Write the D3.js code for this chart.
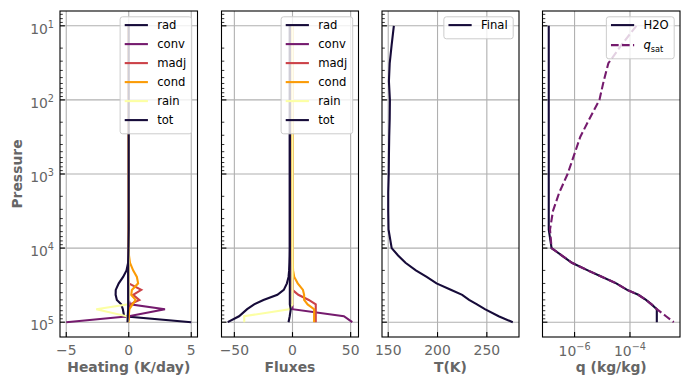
<!DOCTYPE html>
<html>
<head>
<meta charset="utf-8">
<script src="https://cdn.jsdelivr.net/npm/d3@7"></script>
<style>
body { margin: 0; background: #fff; }
text { font-family: "DejaVu Sans", sans-serif; }
</style>
</head>
<body>
<svg id="chart" width="690" height="390"></svg>
<script>
// pressure levels (Pa)
var pres = [10, 18, 32, 56, 100, 178, 316, 562, 1000, 1780, 3160, 5620,
            10000, 12600, 15800, 20000, 24500, 29900, 36700, 42700, 50100, 57500, 66800, 83200, 100000];

// heating rates (K/day)
var heatRad  = [0, 0, 0, 0, 0, 0, 0, 0, 0, 0, 0, -0.02, -0.03, -0.04, -0.05, -0.18, -0.45, -0.8, -1.04, -1.05, -0.95, -0.6, -0.47, -0.37, 5.0];
var heatConv = [0, 0, 0, 0, 0, 0, 0, 0, 0, 0, 0, 0, 0, 0, 0, 0, 0, 0, 0, 0, 0, 0.1, 2.9, 0, -5.0];
var heatMadj = [0, 0, 0, 0, 0, 0, 0, 0, 0, 0, 0, 0, 0, 0, 0, 0, 0, 0, 1.0, 0.35, 0.85, 0.1, 0, 0, 0];
var heatCond = [0, 0, 0, 0, 0, 0, 0, 0, 0, 0, 0, 0, 0, 0.02, 0.1, 0.35, 0.65, 0.75, 0.25, 0.2, 0.55, 0.3, 0.05, 0, 0];
var heatRain = [0, 0, 0, 0, 0, 0, 0, 0, 0, 0, 0, 0, 0, 0, 0, 0, 0, 0, 0, 0, 0, -0.05, -2.6, -0.15, 0];
var heatTot  = [0, 0, 0, 0, 0, 0, 0, 0, 0, 0, 0, 0, -0.02, -0.03, -0.05, -0.05, -0.05, -0.05, -0.05, -0.05, -0.05, -0.05, -0.05, -0.08, -0.1];

// fluxes
var fluxRad  = [-2.3, -2.3, -2.3, -2.3, -2.3, -2.3, -2.3, -2.3, -2.3, -2.3, -2.3, -2.3, -2.3, -2.4, -2.6, -2.9, -3.4, -4.8, -7.5, -13, -25, -33, -39, -46, -55.7];
var fluxConv = [0, 0, 0, 0, 0, 0, 0, 0, 0, 0, 0, 0, 0, 0, 0, 0, 0, 0, 0, 0, 0, 0, 0, 44.2, 51.4];
var fluxMadj = [0, 0, 0, 0, 0, 0, 0, 0, 0, 0, 0, 0, 0, 0, 0, 0, 0, 0, 0, 5, 14, 20, 20, 20, 20];
var fluxCond = [0, 0, 0, 0, 0, 0, 0, 0, 0, 0, 0, 0, 0, 0, 0.2, 0.5, 1.5, 4.5, 9, 10, 10, 13, 18.6, 18.6, 18.6];
var fluxRain = [0, 0, 0, 0, 0, 0, 0, 0, 0, 0, 0, 0, 0, 0, 0, 0, 0, 0, 0, 0, 0, 0, -2.9, -41.5, -41.5];
var fluxTot  = [-2.3, -2.3, -2.3, -2.3, -2.3, -2.3, -2.3, -2.3, -2.3, -2.3, -2.3, -2.3, -2.3, -2.3, -2.3, -2.3, -2.3, -2.3, -2.3, -2.3, -2.3, -2.3, -1.5, -2.4, -3.4];

// temperature (K)
var tempFinal = [155.7, 153.5, 151.5, 150.7, 151.7, 151.5, 151, 150.7, 150.5, 150, 150, 150.3,
                 153.5, 160, 167.5, 178, 189, 199, 214, 225, 232, 240, 248, 262, 276.3];

// specific humidity (kg/kg)
var qH2O = [1.17e-7, 1.17e-7, 1.17e-7, 1.17e-7, 1.17e-7, 1.17e-7, 1.17e-7, 1.17e-7, 1.17e-7, 1.17e-7, 1.17e-7, 1.17e-7,
            1.48e-7, 3.5e-7, 8e-7, 3.0e-6, 1e-5, 3.2e-5, 7.9e-5, 2.0e-4, 3.8e-4, 6.0e-4, 9.3e-4, 9.3e-4, 9.3e-4];
var qSat = [1.7e-4, 5e-5, 1.66e-5, 1.12e-5, 7.9e-6, 3.5e-6, 1.6e-6, 9.5e-7, 5.6e-7, 2.8e-7, 1.66e-7, 1.3e-7,
            1.48e-7, 3.5e-7, 8e-7, 3.0e-6, 1e-5, 3.2e-5, 7.9e-5, 2.0e-4, 3.8e-4, 6.0e-4, 9.3e-4, 2.0e-3, 3.8e-3];

var termNames = ["rad", "conv", "madj", "cond", "rain", "tot"];
var termColors = ["#160b39", "#751b6e", "#cc4248", "#fb9b06", "#fcffa4", "#160b39"];

var heatTicks = [-5, 0, 5];
var fluxTicks = [-50, 0, 50];
var tempTicks = [150, 200, 250];
var qTicks = [1e-6, 1e-4];
var presTicks = [1e1, 1e2, 1e3, 1e4, 1e5];

//------------------------------------------------------
var plotTop = 11, plotBottom = 337;
var fsTick = 13.9, gray = "#666";
var lw = 2.1, dashQ = "7.7,3.3";
var svg = d3.select("#chart");

function padLin(vals) {
    var e = d3.extent(vals), m = (e[1] - e[0]) * 0.05;
    return [e[0] - m, e[1] + m];
}
function padLog(vals) {
    var e = d3.extent(vals).map(Math.log10), m = (e[1] - e[0]) * 0.05;
    return [Math.pow(10, e[0] - m), Math.pow(10, e[1] + m)];
}

var y = d3.scaleLog().domain(padLog(pres)).range([plotTop, plotBottom]);

// minor log ticks inside y domain
var yMinor = [];
[1, 10, 100, 1000, 10000, 100000].forEach(function (d) {
    for (var k = 2; k <= 9; k++) {
        var v = d * k;
        if (v > y.domain()[0] && v < y.domain()[1]) yMinor.push(v);
    }
});

function supLabel(sel, exp, supDy, supSize) {
    sel.append("tspan").text("10");
    sel.append("tspan").attr("dy", supDy).attr("font-size", supSize).text(exp);
}

function drawPanel(x, xTicks, isLog, xLabel, lines, rows, pitch, showY) {
    var x0 = x.range()[0], x1 = x.range()[1];
    var g = svg.append("g");

    // grid
    g.selectAll(".gx").data(xTicks).enter().append("line")
        .attr("x1", function (d) { return x(d); }).attr("x2", function (d) { return x(d); })
        .attr("y1", plotTop).attr("y2", plotBottom)
        .style("stroke", "#b0b0b0").style("stroke-width", 1.1);
    g.selectAll(".gy").data(presTicks).enter().append("line")
        .attr("x1", x0).attr("x2", x1)
        .attr("y1", function (d) { return y(d); }).attr("y2", function (d) { return y(d); })
        .style("stroke", "#b0b0b0").style("stroke-width", 1.1);

    // lines
    lines.forEach(function (ln) {
        var d3line = d3.line()
            .x(function (d) { return x(d[0]); })
            .y(function (d) { return y(d[1]); });
        g.append("path")
            .attr("d", d3line(d3.zip(ln.values, pres)))
            .style("fill", "none")
            .style("stroke", ln.color)
            .style("stroke-width", lw)
            .style("stroke-dasharray", ln.dash || null);
    });

    // frame
    g.append("rect").attr("x", x0).attr("y", plotTop)
        .attr("width", x1 - x0).attr("height", plotBottom - plotTop)
        .style("fill", "none").style("stroke", "#000").style("stroke-width", 1.1);

    // ticks (inside)
    g.selectAll(".tx").data(xTicks).enter().append("line")
        .attr("x1", function (d) { return x(d); }).attr("x2", function (d) { return x(d); })
        .attr("y1", plotBottom).attr("y2", plotBottom - 4.9)
        .style("stroke", "#000").style("stroke-width", 1.1);
    g.selectAll(".ty").data(presTicks).enter().append("line")
        .attr("x1", x0).attr("x2", x0 + 4.9)
        .attr("y1", function (d) { return y(d); }).attr("y2", function (d) { return y(d); })
        .style("stroke", "#000").style("stroke-width", 1.1);
    g.selectAll(".tym").data(yMinor).enter().append("line")
        .attr("x1", x0).attr("x2", x0 + 2.8)
        .attr("y1", function (d) { return y(d); }).attr("y2", function (d) { return y(d); })
        .style("stroke", "#000").style("stroke-width", 0.8);

    // x tick labels
    xTicks.forEach(function (d) {
        var t = g.append("text")
            .attr("x", x(d)).attr("y", isLog ? 356 : 355)
            .attr("text-anchor", "middle")
            .attr("font-size", fsTick).attr("fill", gray);
        if (isLog) supLabel(t, d3.format("d")(Math.round(Math.log10(d))), -5.7, 9.7);
        else t.text(d3.format("d")(d));
    });

    // y tick labels
    if (showY) {
        presTicks.forEach(function (d) {
            var t = g.append("text")
                .attr("x", 54).attr("y", y(d) + 7.7)
                .attr("text-anchor", "end")
                .attr("font-size", fsTick).attr("fill", gray);
            supLabel(t, String(Math.round(Math.log10(d))), -5.7, 9.7);
        });
        g.append("text")
            .attr("transform", "translate(21.7," + ((plotTop + plotBottom) / 2) + ") rotate(-90)")
            .attr("text-anchor", "middle")
            .attr("font-size", fsTick).attr("font-weight", "bold").attr("fill", gray)
            .text("Pressure");
    }

    g.append("text")
        .attr("x", (x0 + x1) / 2).attr("y", 372)
        .attr("text-anchor", "middle")
        .attr("font-size", fsTick).attr("font-weight", "bold").attr("fill", gray)
        .text(xLabel);

    // legend
    var lg = g.append("g");
    var box = lg.append("rect");
    var maxW = 0;
    rows.forEach(function (r, k) {
        var ly = 8.3 + k * pitch;
        lg.append("line")
            .attr("x1", 4.6).attr("x2", 27.8).attr("y1", ly).attr("y2", ly)
            .style("stroke", r.color).style("stroke-width", lw)
            .style("stroke-dasharray", r.dash || null);
        var t = lg.append("text")
            .attr("x", 37.1).attr("y", ly + 4.2)
            .attr("font-size", 11.6).attr("fill", "#000");
        if (r.sub) {
            t.append("tspan").attr("font-style", "italic").text(r.label);
            t.append("tspan").attr("dy", 2.8).attr("font-size", 8.2).text(r.sub);
        } else {
            t.text(r.label);
        }
        maxW = Math.max(maxW, t.node().getComputedTextLength());
    });
    var bw = 37.1 + maxW + 5.5;
    var bh = 22 + (rows.length - 1) * pitch;
    box.attr("x", 0).attr("y", 0).attr("width", bw).attr("height", bh)
        .attr("rx", 2.5)
        .style("fill", "#fff").style("fill-opacity", 0.8)
        .style("stroke", "#cccccc").style("stroke-width", 1);
    lg.attr("transform", "translate(" + (x1 - 5.8 - bw) + "," + (plotTop + 5.8) + ")");
}

// panel 1: heating
var heatSeries = [heatRad, heatConv, heatMadj, heatCond, heatRain, heatTot];
var xHeat = d3.scaleLinear().domain(padLin(d3.merge(heatSeries))).range([60, 197.5]);
var termLines = function (arr) {
    return arr.map(function (v, i) { return { values: v, color: termColors[i] }; });
};
var termRows = termNames.map(function (n, i) { return { label: n, color: termColors[i] }; });
drawPanel(xHeat, heatTicks, false, "Heating (K/day)", termLines(heatSeries), termRows, 19, true);

// panel 2: fluxes
var fluxSeries = [fluxRad, fluxConv, fluxMadj, fluxCond, fluxRain, fluxTot];
var xFlux = d3.scaleLinear().domain(padLin(d3.merge(fluxSeries))).range([221.5, 358.5]);
drawPanel(xFlux, fluxTicks, false, "Fluxes", termLines(fluxSeries), termRows, 19, false);

// panel 3: temperature
var xTemp = d3.scaleLinear().domain(padLin(tempFinal)).range([382, 519]);
drawPanel(xTemp, tempTicks, false, "T(K)",
    [{ values: tempFinal, color: termColors[0] }],
    [{ label: "Final", color: termColors[0] }], 19, false);

// panel 4: humidity
var xQ = d3.scaleLog().domain(padLog(qH2O.concat(qSat))).range([542.5, 680]);
drawPanel(xQ, qTicks, true, "q (kg/kg)",
    [{ values: qH2O, color: termColors[0] }, { values: qSat, color: termColors[1], dash: dashQ }],
    [{ label: "H2O", color: termColors[0] }, { label: "q", sub: "sat", color: termColors[1], dash: dashQ }], 20, false);
</script>
</body>
</html>
